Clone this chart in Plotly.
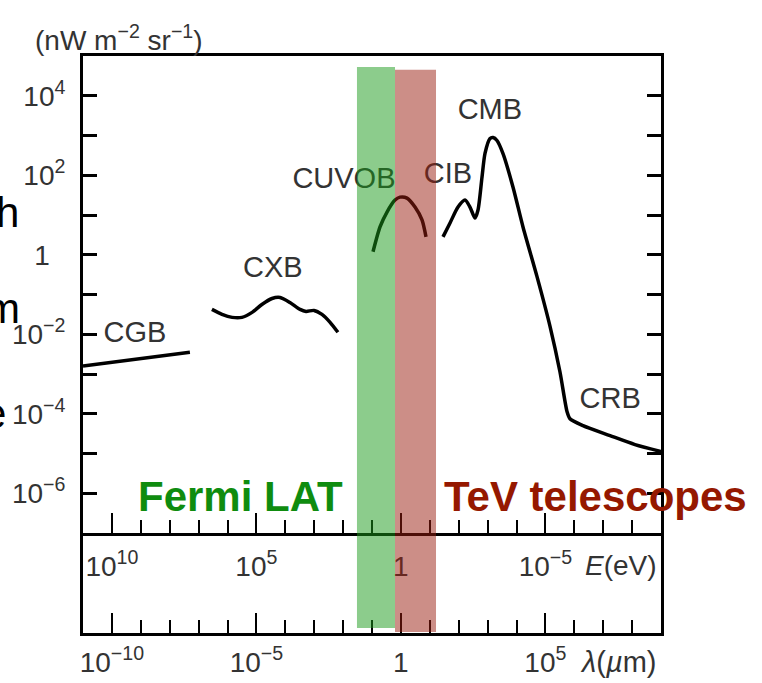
import numpy as np
import plotly.graph_objects as go

# ---- background light spectra: log10(wavelength / um) vs log10(intensity / nW m^-2 sr^-1)
cgb_loglam = [-11.0, -7.30]
cgb_logI = [-2.80, -2.45]

cxb_loglam = [-6.54, -6.19, -5.84, -5.50, -5.15, -4.81, -4.46, -4.18, -3.84,
              -3.49, -3.28, -3.01, -2.73, -2.45, -2.18]
cxb_logI = [-1.375, -1.50, -1.575, -1.575, -1.45, -1.25, -1.10, -1.075, -1.20,
            -1.375, -1.425, -1.40, -1.50, -1.70, -1.95]

cuvob_loglam = [-0.965, -0.723, -0.481, -0.204, -0.031, 0.211, 0.488, 0.730, 0.869]
cuvob_logI = [0.075, 0.70, 1.075, 1.375, 1.45, 1.425, 1.20, 0.875, 0.45]

# CIB + CMB + CRB drawn as one continuous curve
ir_radio_loglam = [1.457, 1.70, 1.976, 2.218, 2.39, 2.564, 2.668, 2.806, 2.91, 3.083,
                   3.19, 3.325, 3.53, 3.88, 4.225, 4.71, 5.16, 5.505, 5.75, 5.85,
                   6.30, 7.235, 8.10, 9.0]
ir_radio_logI = [0.45, 0.80, 1.20, 1.375, 1.20, 0.925, 1.125, 1.95, 2.55, 2.925,
                 2.95, 2.875, 2.55, 1.70, 0.70, -0.55, -1.80, -2.95, -3.95, -4.125,
                 -4.30, -4.55, -4.775, -4.95]

component_names = ["CGB", "CXB", "CUVOB", "CIB", "CMB", "CRB"]

# instrument sensitivity windows, log10(wavelength / um)
fermi_band = [-1.52, -0.204]
tev_band = [-0.204, 1.215]

# axis ticks
lam_major = [-10, -5, 0, 5]
lam_labels = ["10<sup>−10</sup>", "10<sup>−5</sup>", "1", "10<sup>5</sup>"]
energy_labels = ["10<sup>10</sup>", "10<sup>5</sup>", "1", "10<sup>−5</sup>"]
intensity_decades = list(range(-7, 6))
intensity_labels = {4: "10<sup>4</sup>", 2: "10<sup>2</sup>", 0: "1&nbsp;&nbsp;",
                    -2: "10<sup>−2</sup>", -4: "10<sup>−4</sup>", -6: "10<sup>−6</sup>"}

NARROW = "Liberation Sans Narrow, Arial Narrow, Liberation Sans, Arial, sans-serif"
SANS = "Liberation Sans, Arial, Helvetica, sans-serif"
TXT = "#333333"

W, H = 762, 683
ML, MR, MT, MB = 83, 101, 56, 50
lower_frac = 100 / (H - MT - MB)


def pw(v):
    return [10 ** x for x in v]


fig = go.Figure()
line = dict(color="black", width=3.5)
fig.add_trace(go.Scatter(x=pw(cgb_loglam), y=pw(cgb_logI), mode="lines", line=line))
for lx, ly in [(cxb_loglam, cxb_logI), (cuvob_loglam, cuvob_logI),
               (ir_radio_loglam, ir_radio_logI)]:
    fig.add_trace(go.Scatter(x=pw(lx), y=pw(ly), mode="lines",
                             line=dict(color="black", width=3.5, shape="spline", smoothing=0.7)))

# component labels
label_at_loglam = [-9.20, -4.43, -1.97, 1.63, 3.08, 7.24]
label_at_logI = [-2.00, -0.375, 1.85, 1.975, 3.60, -3.675]
fig.add_trace(go.Scatter(x=pw(label_at_loglam), y=pw(label_at_logI), mode="text",
                         text=component_names, textposition="middle center",
                         textfont=dict(family=NARROW, size=29, color=TXT)))

# empty trace so the lower (wavelength) panel gets its own axes drawn
fig.add_trace(go.Scatter(x=[1.0], y=[0.5], xaxis="x2", yaxis="y2", mode="markers",
                         marker=dict(opacity=0), hoverinfo="skip"))

# shaded instrument windows drawn over everything in the plot area
fig.add_shape(type="rect", xref="x", yref="paper",
              x0=10 ** fermi_band[0], x1=10 ** fermi_band[1],
              y0=0.0087, y1=0.981, fillcolor="rgb(25,153,25)", opacity=0.5,
              line_width=0, layer="above")
fig.add_shape(type="rect", xref="x", yref="paper",
              x0=10 ** tev_band[0], x1=10 ** tev_band[1],
              y0=0.0017, y1=0.976, fillcolor="rgb(153,29,15)", opacity=0.5,
              line_width=0, layer="above")

minor_vals = [10 ** d for d in range(-11, 10) if d not in lam_major]
tickfont = dict(family=NARROW, size=28, color=TXT)

fig.update_layout(
    width=W, height=H, margin=dict(l=ML, r=MR, t=MT, b=MB, autoexpand=False),
    paper_bgcolor="white", plot_bgcolor="white", showlegend=False,
    xaxis=dict(type="log", range=[-11, 9], domain=[0, 1], anchor="y", automargin=False,
               showgrid=False, zeroline=False, showline=True, linewidth=3,
               linecolor="black", mirror=True, ticks="inside", ticklen=20,
               tickwidth=2, tickcolor="black",
               tickvals=[10 ** d for d in lam_major], ticktext=energy_labels,
               tickfont=tickfont, ticklabelstandoff=6,
               minor=dict(tickvals=minor_vals, ticks="inside", ticklen=13,
                          tickwidth=2, tickcolor="black", showgrid=False)),
    yaxis=dict(type="log", range=[-7, 5], domain=[lower_frac, 1], anchor="x",
               automargin=False,
               showgrid=False, zeroline=False, showline=True, linewidth=3,
               linecolor="black", mirror="ticks", ticks="inside", ticklen=14,
               tickwidth=2.5, tickcolor="black",
               tickvals=[10 ** d for d in intensity_decades],
               ticktext=[intensity_labels.get(d, "") for d in intensity_decades],
               tickfont=tickfont, ticklabelstandoff=9),
    xaxis2=dict(type="log", range=[-11, 9], domain=[0, 1], anchor="y2", automargin=False,
                showgrid=False, zeroline=False, showline=True, linewidth=3,
                linecolor="black", ticks="inside", ticklen=20, tickwidth=2,
                tickcolor="black", tickvals=[10 ** d for d in lam_major],
                ticktext=lam_labels, tickfont=tickfont, ticklabelstandoff=2,
                minor=dict(tickvals=minor_vals, ticks="inside", ticklen=13,
                           tickwidth=2, tickcolor="black", showgrid=False)),
    yaxis2=dict(range=[0, 1], domain=[0, lower_frac], anchor="x2", showgrid=False,
                automargin=False,
                zeroline=False, showline=True, linewidth=3, linecolor="black",
                mirror=True, ticks="", showticklabels=False),
)


def px_x(p):
    return (p - ML) / (W - ML - MR)


def px_y(p):
    return (H - MB - p) / (H - MT - MB)


notes = [
    dict(text="(nW m<sup>−2</sup> sr<sup>−1</sup>)", x=px_x(119), y=px_y(38),
         font=dict(family=NARROW, size=28, color=TXT)),
    dict(text="<i>E</i>(eV)", x=px_x(621), y=px_y(565),
         font=dict(family=NARROW, size=28, color=TXT)),
    dict(text="<i>λ</i>(<i>µ</i>m)", x=px_x(618), y=px_y(662),
         font=dict(family=NARROW, size=29, color=TXT)),
    dict(text="<b>Fermi LAT</b>", x=px_x(240), y=px_y(496),
         font=dict(family=SANS, size=42, color="#0f8c0f")),
    dict(text="<b>TeV telescopes</b>", x=px_x(595), y=px_y(496),
         font=dict(family=SANS, size=42, color="#951800")),
]
for n in notes:
    fig.add_annotation(xref="paper", yref="paper", showarrow=False,
                       xanchor="center", yanchor="middle", **n)

# slide text partly hidden behind the figure on the left
for ch, right_px, mid_px in [("h", 21, 212), ("m", 22, 308), ("e", 8, 413)]:
    fig.add_annotation(xref="paper", yref="paper", showarrow=False, text=ch,
                       x=px_x(right_px), y=px_y(mid_px), xanchor="right",
                       yanchor="middle", font=dict(family=SANS, size=42, color="black"))

fig.write_html("out.html")
